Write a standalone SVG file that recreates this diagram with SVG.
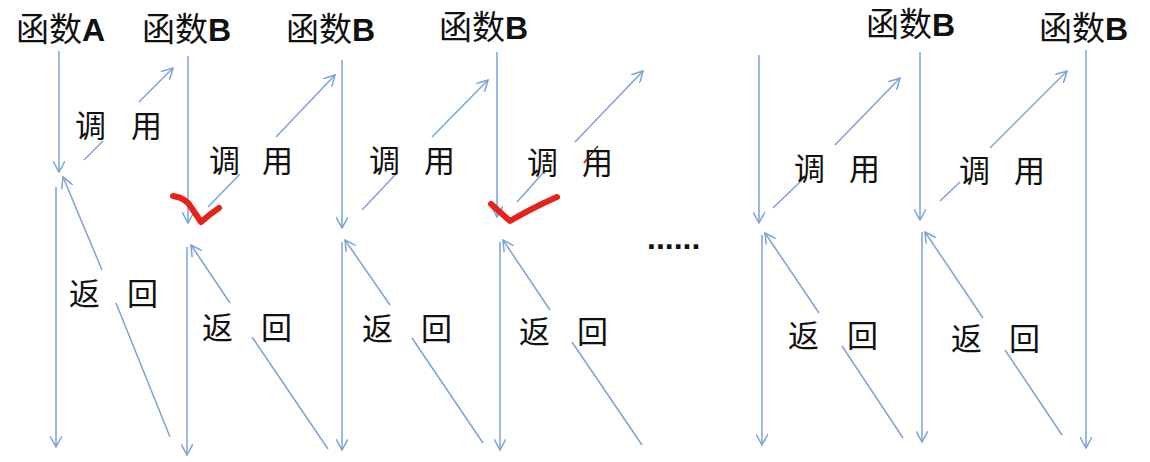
<svg xmlns="http://www.w3.org/2000/svg" width="1150" height="462" viewBox="0 0 1150 462">
<defs>
<style>
.t{font-family:"Liberation Sans","Noto Sans CJK SC",sans-serif;font-size:33px;fill:#111}
.t tspan{font-weight:bold;font-size:32px}
.c{font-family:"Noto Sans CJK SC",sans-serif;font-size:31px;fill:#111}
.l{stroke:#7ba3d4;stroke-width:1.5;fill:none}
.a{stroke:#7ba3d4;stroke-width:1.5;fill:none;marker-end:url(#ah)}
.red{stroke:#e5231b;stroke-width:6;fill:none;stroke-linecap:round;stroke-linejoin:round}
</style>
<marker id="ah" viewBox="0 0 12 12" refX="11" refY="6" markerWidth="12" markerHeight="12" markerUnits="userSpaceOnUse" orient="auto">
<path d="M0,0 L11,6 L0,12" fill="none" stroke="#7ba3d4" stroke-width="1.5"/>
</marker>
</defs>
<rect width="1150" height="462" fill="#fff"/>
<g id="connectors">
<line class="a" x1="59" y1="51" x2="59" y2="172"/>
<line class="a" x1="56" y1="187" x2="56" y2="447"/>
<line class="a" x1="188" y1="56" x2="188" y2="223"/>
<line class="a" x1="187" y1="247" x2="187" y2="455"/>
<line class="a" x1="342" y1="60" x2="342" y2="228"/>
<line class="a" x1="342" y1="242" x2="342" y2="450"/>
<line class="a" x1="497" y1="52" x2="497" y2="217"/>
<line class="a" x1="500" y1="242" x2="500" y2="450"/>
<line class="a" x1="759" y1="55" x2="759" y2="223"/>
<line class="a" x1="762" y1="235" x2="762" y2="445"/>
<line class="a" x1="920" y1="52" x2="920" y2="220"/>
<line class="a" x1="922" y1="232" x2="922" y2="442"/>
<line class="a" x1="1086" y1="50" x2="1086" y2="448"/>
<line class="l" x1="84" y1="160" x2="103" y2="141"/>
<line class="a" x1="139" y1="102" x2="173" y2="68"/>
<line class="l" x1="208" y1="207" x2="240" y2="174"/>
<line class="a" x1="276" y1="137" x2="335" y2="75"/>
<line class="l" x1="362" y1="210" x2="395" y2="175"/>
<line class="a" x1="432" y1="137" x2="488" y2="80"/>
<line class="l" x1="517" y1="202" x2="543" y2="173"/>
<line class="a" x1="575" y1="142" x2="643" y2="71"/>
<line class="l" x1="773" y1="208" x2="802" y2="180"/>
<line class="a" x1="835" y1="145" x2="900" y2="78"/>
<line class="l" x1="940" y1="201" x2="960" y2="182"/>
<line class="a" x1="990" y1="148" x2="1067" y2="71"/>
<line class="a" x1="102" y1="270" x2="63" y2="177"/>
<line class="l" x1="170" y1="437" x2="116" y2="303"/>
<line class="a" x1="230" y1="303" x2="191" y2="245"/>
<line class="l" x1="328" y1="449" x2="252" y2="337"/>
<line class="a" x1="390" y1="305" x2="345" y2="240"/>
<line class="l" x1="483" y1="443" x2="412" y2="338"/>
<line class="a" x1="550" y1="310" x2="503" y2="240"/>
<line class="l" x1="642" y1="445" x2="572" y2="342"/>
<line class="a" x1="819" y1="313" x2="765" y2="233"/>
<line class="l" x1="903" y1="438" x2="842" y2="346"/>
<line class="a" x1="983" y1="318" x2="925" y2="232"/>
<line class="l" x1="1062" y1="435" x2="1005" y2="350"/>
</g>
<g id="title-A"><text class="t" x="16" y="41">函数<tspan>A</tspan></text></g>
<g id="title-B1"><text class="t" x="142" y="41">函数<tspan>B</tspan></text></g>
<g id="title-B2"><text class="t" x="286" y="41">函数<tspan>B</tspan></text></g>
<g id="title-B3"><text class="t" x="439" y="39">函数<tspan>B</tspan></text></g>
<g id="title-B4"><text class="t" x="866" y="36">函数<tspan>B</tspan></text></g>
<g id="title-B5"><text class="t" x="1039" y="40">函数<tspan>B</tspan></text></g>
<g id="call-labels">
<text class="c" x="75 131" y="137">调用</text>
<text class="c" x="209 262" y="172">调用</text>
<text class="c" x="369 424" y="172">调用</text>
<text class="c" x="527 582" y="174">调用</text>
<text class="c" x="794 849" y="180">调用</text>
<text class="c" x="959 1014" y="182">调用</text>
</g>
<g id="return-labels">
<text class="c" x="69 127" y="305">返回</text>
<text class="c" x="202 261" y="339">返回</text>
<text class="c" x="362 421" y="340">返回</text>
<text class="c" x="519 577" y="343">返回</text>
<text class="c" x="788 847" y="347">返回</text>
<text class="c" x="951 1009" y="350">返回</text>
</g>
<g id="ellipsis"><text x="647" y="249" style="font-family:'Liberation Sans',sans-serif;font-size:32px;font-weight:bold;fill:#111">......</text></g>
<g id="marks">
<path class="red" d="M173,196 Q186,198 191,207 L201,222 Q210,214 219,208"/>
<path class="red" d="M491,204 L510,221 Q532,208 557,197"/>
<line x1="598" y1="146" x2="587" y2="159" stroke="#222" stroke-width="1.2"/>
<line x1="587" y1="159" x2="584" y2="163" stroke="#e5231b" stroke-width="2"/>
</g>
</svg>
